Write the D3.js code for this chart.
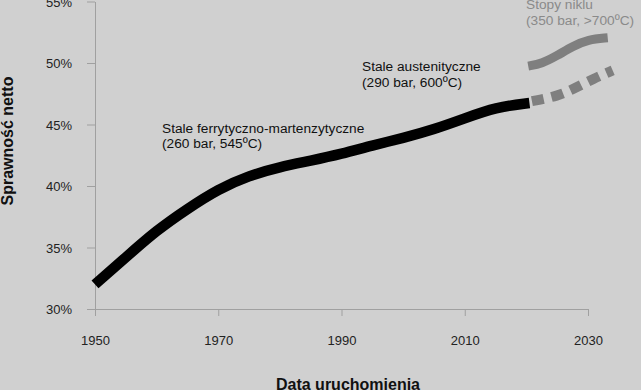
<!DOCTYPE html>
<html>
<head>
<meta charset="utf-8">
<script src="https://cdn.jsdelivr.net/npm/d3@7"></script>
<style>
  body { margin: 0; background: #d0d0d0; }
  svg { display: block; font-family: 'Liberation Sans', Arial, sans-serif; }
</style>
</head>
<body>
<div id="chart"></div>
<script>
// stale ferrytyczno-martenzytyczne / austenityczne (black)
const steel_years = [1950, 1955, 1960, 1965, 1970, 1975, 1980, 1985, 1990, 1995, 2000, 2005, 2010, 2015, 2020.5]
const steel_values = [32.0, 34.2, 36.4, 38.15, 39.75, 40.85, 41.55, 42.05, 42.6, 43.3, 43.9, 44.6, 45.5, 46.4, 46.75]

// stopy niklu (grey solid)
const nickel_years = [2020.3, 2022.5, 2025, 2027.5, 2030, 2033.2]
const nickel_values = [49.75, 49.95, 50.6, 51.35, 51.9, 52.05]

// projection (grey dashed)
const proj_years = [2020.9, 2025.1, 2028.1, 2030.8, 2034]
const proj_values = [46.9, 47.3, 48.0, 48.7, 49.4]

const x_ticks = [1950, 1970, 1990, 2010, 2030]
const y_ticks = [30, 35, 40, 45, 50, 55]

const width = 641
const height = 390

const svg = d3.select('#chart')
  .append('svg')
  .attr('width', width)
  .attr('height', height)

svg.append('rect')
  .attr('width', width)
  .attr('height', height)
  .attr('fill', '#d0d0d0')

const x = d3.scaleLinear().domain([1950, 2030]).range([95, 588])
const y = d3.scaleLinear().domain([30, 55]).range([309, 1.5])

// axes
const x_axis = svg.append('g')
  .attr('transform', `translate(0,${y(30)})`)
  .call(d3.axisBottom(x).tickValues(x_ticks).tickFormat(d3.format('d'))
    .tickSize(7).tickSizeOuter(0).tickPadding(20))

const y_axis = svg.append('g')
  .attr('transform', `translate(${x(1950)},0)`)
  .call(d3.axisLeft(y).tickValues(y_ticks).tickFormat(d => d + '%')
    .tickSize(8).tickSizeOuter(0).tickPadding(15))

for (let g of [x_axis, y_axis]) {
  g.select('.domain').attr('stroke', '#a0a0a0')
  g.selectAll('.tick line').attr('stroke', '#a0a0a0')
  g.selectAll('.tick text')
    .attr('fill', '#222')
    .attr('font-size', 13)
    .attr('font-family', "'Liberation Sans', Arial, sans-serif")
}
y_axis.selectAll('.tick text').attr('dy', '0.35em')

// lines
const line = d3.line()
  .x(d => x(d[0]))
  .y(d => y(d[1]))
  .curve(d3.curveBasis)

svg.append('path')
  .datum(d3.zip(steel_years, steel_values))
  .attr('d', line)
  .attr('fill', 'none')
  .attr('stroke', '#000')
  .attr('stroke-width', 10.5)

svg.append('path')
  .datum(d3.zip(nickel_years, nickel_values))
  .attr('d', line)
  .attr('fill', 'none')
  .attr('stroke', '#7f7f7f')
  .attr('stroke-width', 9)

svg.append('path')
  .datum(d3.zip(proj_years, proj_values))
  .attr('d', line)
  .attr('fill', 'none')
  .attr('stroke', '#7f7f7f')
  .attr('stroke-width', 10)
  .attr('stroke-dasharray', '12,8')

// annotations
const notes = [
  { lines: ['Stale ferrytyczno-martenzytyczne', '(260 bar, 545ºC)'], x: 162, y: 133, dy: 15, color: '#111' },
  { lines: ['Stale austenityczne', '(290 bar, 600ºC)'], x: 362, y: 71, dy: 16, color: '#111' },
  { lines: ['Stopy niklu', '(350 bar, >700ºC)'], x: 526, y: 9, dy: 16, color: '#8a8a8a' }
]

for (let n of notes) {
  let t = svg.append('text')
    .attr('font-size', 13.7)
    .attr('fill', n.color)
  n.lines.forEach((s, i) => {
    t.append('tspan').attr('x', n.x).attr('y', n.y + i * n.dy).text(s)
  })
}

// titles
svg.append('text')
  .attr('x', 348)
  .attr('y', 390)
  .attr('text-anchor', 'middle')
  .attr('font-size', 16)
  .attr('font-weight', 'bold')
  .attr('fill', '#111')
  .text('Data uruchomienia')

svg.append('text')
  .attr('transform', 'translate(13,141) rotate(-90)')
  .attr('text-anchor', 'middle')
  .attr('font-size', 16)
  .attr('font-weight', 'bold')
  .attr('fill', '#111')
  .text('Sprawność netto')
</script>
</body>
</html>
